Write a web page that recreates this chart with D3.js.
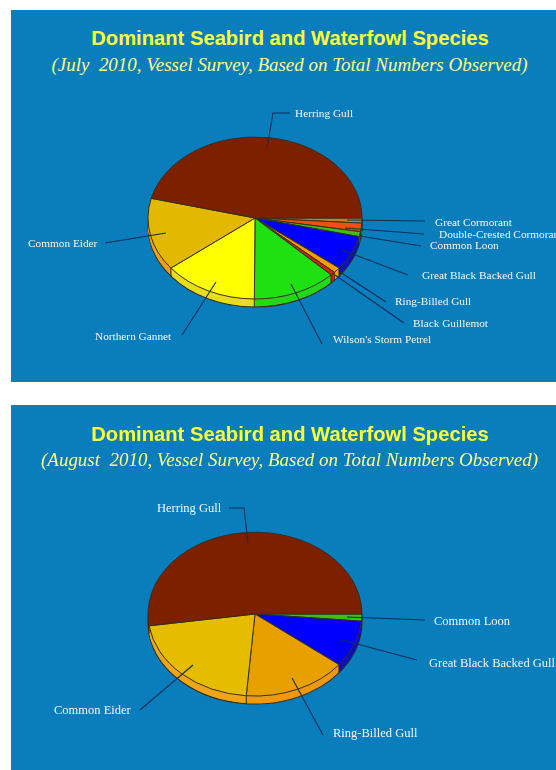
<!DOCTYPE html>
<html><head><meta charset="utf-8">
<script src="https://cdn.jsdelivr.net/npm/d3@7"></script>
<style>html,body{margin:0;padding:0;background:#fff}svg{display:block;filter:blur(.35px)}</style>
</head><body><svg id="c" width="556" height="770"></svg>
<script>
// ---- data ----
const julySpecies = ["Great Cormorant","Double-Crested Cormorant","Common Loon","Great Black Backed Gull","Ring-Billed Gull","Black Guillemot","Wilson's Storm Petrel","Northern Gannet","Common Eider","Herring Gull"];
const julyShare = [1.0,1.7,1.0,6.9,1.1,0.7,12.7,14.3,14.5,46.1];
const julyTop = ["#cf7d1c","#f0500f","#3fbf10","#0000ff","#eda000","#d0200f","#1fe010","#ffff00","#e3b800","#7d2000"];
const julySide = ["#a85f10","#d04008","#30a010","#1010b8","#f0a010","#d0200f","#22d818","#e8dc1c","#eda015","#7d2000"];
const augSpecies = ["Common Loon","Great Black Backed Gull","Ring-Billed Gull","Common Eider","Herring Gull"];
const augShare = [1.4,9.2,15.7,21.4,52.3];
const augTop = ["#3fc010","#0000ff","#e8a000","#e6bc00","#7d2000"];
const augSide = ["#30a010","#1010b8","#f09810","#f0a518","#7d2000"];
const titleText = "Dominant Seabird and Waterfowl Species";
const julySub = "(July  2010, Vessel Survey, Based on Total Numbers Observed)";
const augSub = "(August  2010, Vessel Survey, Based on Total Numbers Observed)";

// ---- layout ----
const julyLayout = {panel:[11,10,545,372],cx:255,cy:218,rx:107,ry:81,depth:8,titleY:45,subY:71,subSize:18,subLen:476,labelSize:11.3,
 labels:[
 {x:435,y:225.5,path:[[347,220],[425,221]]},
 {x:439,y:237.5,path:[[345,228],[424,234]]},
 {x:430,y:249,path:[[360,236],[421,246]]},
 {x:422,y:278.5,path:[[342,250],[408,275]]},
 {x:395,y:304.5,path:[[340,272],[386,302]]},
 {x:413,y:326.5,path:[[335,275],[404,323]]},
 {x:333,y:342.5,path:[[291,284],[322,344]]},
 {x:95,y:339.5,path:[[216,282],[182,335]]},
 {x:28,y:246.5,path:[[166,233],[105,243]]},
 {x:295,y:116.5,path:[[267,148],[273,113],[290,113]]}]};
const augLayout = {panel:[11,405,545,365],cx:255,cy:614,rx:107,ry:82,depth:8,titleY:441,subY:466,subSize:18,subLen:497,labelSize:12.5,
 labels:[
 {x:434,y:625,path:[[347,617],[425,620]]},
 {x:429,y:667,path:[[342,640],[417,660]]},
 {x:333,y:737,path:[[292,678],[323,735]]},
 {x:54,y:714,path:[[193,665],[140,710]]},
 {x:157,y:512,path:[[248,543],[244,508],[229,508]]}]};

const svg = d3.select("#c");
const pieGen = d3.pie().sort(null).startAngle(Math.PI/2).endAngle(Math.PI*2.5);
const lineGen = d3.line();

function drawPanel(L, names, values, top, side, sub){
  const g = svg.append("g");
  g.append("rect").attr("x",L.panel[0]).attr("y",L.panel[1]).attr("width",L.panel[2]).attr("height",L.panel[3]).attr("fill","#0a7dbd");
  g.append("text").attr("x",290).attr("y",L.titleY).attr("text-anchor","middle")
    .attr("font-family","'Liberation Sans',Arial,sans-serif").attr("font-weight","bold").attr("font-size",20.2).attr("fill","#ffff33").text(titleText);
  g.append("text").attr("x",289.5).attr("y",L.subY).attr("text-anchor","middle").style("white-space","pre")
    .attr("textLength",L.subLen).attr("lengthAdjust","spacingAndGlyphs")
    .attr("font-family","'Liberation Serif','Times New Roman',serif").attr("font-style","italic").attr("font-size",L.subSize).attr("fill","#ffff80").text(sub);

  const arcs = pieGen(values);
  const sx = d3.scaleLinear().domain([-1,1]).range([L.cx-L.rx,L.cx+L.rx]);
  const sy = d3.scaleLinear().domain([-1,1]).range([L.cy-L.ry,L.cy+L.ry]);
  const arcGen = d3.arc().innerRadius(0).outerRadius(1);
  const dark = "#33301c";
  const pieAt = dy => g.append("g").attr("transform",`translate(${L.cx},${L.cy+dy}) scale(${L.rx},${L.ry})`);

  // side wall: stacked copies of the lower face
  const base = pieAt(L.depth);
  base.selectAll("path").data(arcs).join("path").attr("d",arcGen).attr("fill",(d,i)=>side[i])
    .attr("stroke",dark).attr("stroke-width",1.1).attr("vector-effect","non-scaling-stroke");
  d3.range(L.depth-1,0,-1).forEach(dy=>{
    pieAt(dy).selectAll("path").data(arcs).join("path").attr("d",arcGen).attr("fill",(d,i)=>side[i]);
  });
  // vertical seams at the front of the wall
  g.selectAll("line.seam").data(arcs.filter(d=>Math.cos(d.endAngle)<0)).join("line")
    .attr("x1",d=>sx(Math.sin(d.endAngle))).attr("x2",d=>sx(Math.sin(d.endAngle)))
    .attr("y1",d=>sy(-Math.cos(d.endAngle))).attr("y2",d=>sy(-Math.cos(d.endAngle))+L.depth)
    .attr("stroke",dark).attr("stroke-width",1);
  // top face
  pieAt(0).selectAll("path").data(arcs).join("path").attr("d",arcGen).attr("fill",(d,i)=>top[i])
    .attr("stroke",dark).attr("stroke-width",1).attr("vector-effect","non-scaling-stroke");

  // leaders and labels
  g.selectAll("path.lead").data(L.labels).join("path").attr("d",d=>lineGen(d.path))
    .attr("fill","none").attr("stroke","#0d2f55").attr("stroke-width",1.1);
  g.selectAll("text.lab").data(names).join("text").attr("class","lab")
    .attr("x",(d,i)=>L.labels[i].x).attr("y",(d,i)=>L.labels[i].y)
    .attr("font-family","'Liberation Serif','Times New Roman',serif").attr("font-size",L.labelSize).attr("fill","#f4f8f4").text(d=>d);
}
drawPanel(julyLayout,julySpecies,julyShare,julyTop,julySide,julySub);
drawPanel(augLayout,augSpecies,augShare,augTop,augSide,augSub);
</script></body></html>
